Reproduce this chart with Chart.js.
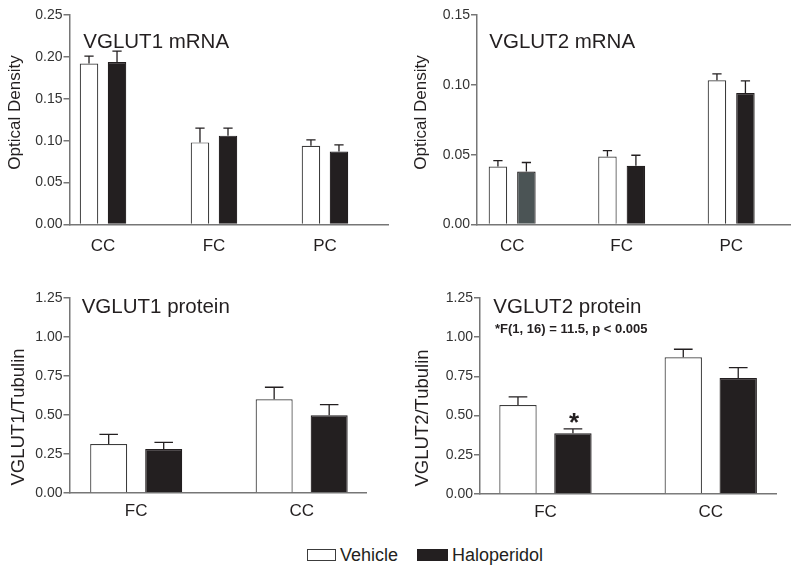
<!DOCTYPE html>
<html>
<head>
<meta charset="utf-8">
<script src="https://cdn.jsdelivr.net/npm/chart.js@4.4.1/dist/chart.umd.min.js"></script>
<style>
  html, body { margin:0; padding:0; background:#ffffff; }
  body { width:800px; height:574px; position:relative; overflow:hidden; font-family:"Liberation Sans", Arial, sans-serif; }
  .panel { position:absolute; width:400px; height:262px; }
  .panel canvas { display:block; }
  .lgbox { position:absolute; box-sizing:border-box; }
  .lgtxt { position:absolute; font-size:18px; line-height:20px; color:#231f20; white-space:nowrap; }
</style>
</head>
<body>
<div class="panel" style="left:0px;top:0px"><canvas id="c1" width="400" height="262"></canvas></div>
<div class="panel" style="left:400px;top:0px"><canvas id="c2" width="400" height="262"></canvas></div>
<div class="panel" style="left:0px;top:262px"><canvas id="c3" width="400" height="262"></canvas></div>
<div class="panel" style="left:400px;top:262px"><canvas id="c4" width="400" height="262"></canvas></div>
<div id="legend"></div>
<script>
// ---------------- DATA ----------------
const seriesNames = ['Vehicle', 'Haloperidol'];

const mrnaRegions = ['CC', 'FC', 'PC'];
const proteinRegions = ['FC', 'CC'];

// VGLUT1 mRNA (Optical Density)
const vglut1MrnaVehicle        = [0.192, 0.098, 0.094];
const vglut1MrnaVehicleSem     = [0.009, 0.017, 0.007];
const vglut1MrnaHaloperidol    = [0.194, 0.106, 0.087];
const vglut1MrnaHaloperidolSem = [0.013, 0.009, 0.008];

// VGLUT2 mRNA (Optical Density)
const vglut2MrnaVehicle        = [0.0415, 0.0487, 0.1032];
const vglut2MrnaVehicleSem     = [0.0043, 0.0042, 0.0046];
const vglut2MrnaHaloperidol    = [0.0380, 0.0420, 0.0942];
const vglut2MrnaHaloperidolSem = [0.0064, 0.0076, 0.0086];

// VGLUT1 protein (VGLUT1/Tubulin)
const vglut1ProteinVehicle        = [0.313, 0.600];
const vglut1ProteinVehicleSem     = [0.062, 0.077];
const vglut1ProteinHaloperidol    = [0.281, 0.498];
const vglut1ProteinHaloperidolSem = [0.043, 0.068];

// VGLUT2 protein (VGLUT2/Tubulin)
const vglut2ProteinVehicle        = [0.568, 0.872];
const vglut2ProteinVehicleSem     = [0.051, 0.051];
const vglut2ProteinHaloperidol    = [0.387, 0.740];
const vglut2ProteinHaloperidolSem = [0.028, 0.066];
const vglut2ProteinHaloperidolSig = ['*', ''];

const mrnaTicks1 = [0, 0.05, 0.10, 0.15, 0.20, 0.25];
const mrnaTicks2 = [0, 0.05, 0.10, 0.15];
const proteinTicks = [0, 0.25, 0.50, 0.75, 1.00, 1.25];

// ---------------- STYLE ----------------
const FONT = '"Liberation Sans", Arial, Helvetica, sans-serif';
const AXIS = '#767676';
const INK = '#231f20';
const VEH_FILL = '#ffffff';
const VEH_EDGE = '#3c3c3c';
const HAL_FILL = '#231f20';

const errorBarPlugin = {
  id: 'errorBars',
  afterDatasetsDraw(chart) {
    const ctx = chart.ctx;
    const ys = chart.scales.y;
    chart.data.datasets.forEach((ds, di) => {
      const meta = chart.getDatasetMeta(di);
      meta.data.forEach((bar, i) => {
        const v = ds.data[i].y;
        const e = ds.errors[i];
        const yBar = ys.getPixelForValue(v);
        const yTop = ys.getPixelForValue(v + e);
        const half = bar.width / 4;
        ctx.save();
        ctx.strokeStyle = INK;
        ctx.lineWidth = 1.3;
        ctx.beginPath();
        ctx.moveTo(bar.x, yBar);
        ctx.lineTo(bar.x, yTop);
        ctx.moveTo(bar.x - half, yTop);
        ctx.lineTo(bar.x + half, yTop);
        ctx.stroke();
        if (ds.sig && ds.sig[i]) {
          ctx.fillStyle = INK;
          ctx.font = 'bold 26px ' + FONT;
          ctx.textAlign = 'center';
          ctx.textBaseline = 'alphabetic';
          ctx.fillText(ds.sig[i], bar.x + 1, yTop + 2);
        }
        ctx.restore();
      });
    });
  }
};

const textPlugin = {
  id: 'panelTexts',
  afterDraw(chart, args, o) {
    const ctx = chart.ctx;
    ctx.save();
    ctx.fillStyle = INK;
    ctx.font = o.titleSize + 'px ' + FONT;
    ctx.textAlign = 'left';
    ctx.textBaseline = 'alphabetic';
    ctx.fillText(o.title, o.titleX, o.titleY);
    if (o.note) {
      ctx.font = 'bold 13px ' + FONT;
      ctx.fillText(o.note, o.noteX, o.noteY);
    }
    ctx.translate(o.yTitleX, o.yTitleY);
    ctx.rotate(-Math.PI / 2);
    ctx.font = o.yTitleSize + 'px ' + FONT;
    ctx.textAlign = 'center';
    ctx.textBaseline = 'middle';
    ctx.fillText(o.yTitle, 0, 0);
    ctx.restore();
  }
};

function makePanel(id, p) {
  const toPts = (arr) => arr.map((v, i) => ({ x: i, y: v }));
  new Chart(document.getElementById(id), {
    type: 'bar',
    data: {
      datasets: [
        {
          label: seriesNames[0],
          data: toPts(p.veh),
          errors: p.vehErr,
          backgroundColor: VEH_FILL,
          borderColor: VEH_EDGE,
          borderWidth: 1.2,
          borderSkipped: 'bottom',
          categoryPercentage: p.cp,
          barPercentage: p.bp
        },
        {
          label: seriesNames[1],
          data: toPts(p.hal),
          errors: p.halErr,
          sig: p.sig,
          backgroundColor: p.halColors,
          borderColor: INK,
          borderWidth: 1.2,
          borderSkipped: 'bottom',
          categoryPercentage: p.cp,
          barPercentage: p.bp
        }
      ]
    },
    options: {
      responsive: false,
      animation: false,
      devicePixelRatio: 1,
      layout: { padding: { left: 0, top: p.top, right: p.right, bottom: 0 } },
      plugins: {
        legend: { display: false },
        tooltip: { enabled: false },
        panelTexts: p.texts
      },
      scales: {
        x: {
          type: 'linear',
          min: p.xmin,
          max: p.xmax,
          offset: false,
          bounds: 'data',
          afterBuildTicks: (s) => { s.ticks = p.cats.map((c, i) => ({ value: i })); },
          grid: { display: false, drawTicks: false },
          border: { display: true, color: AXIS, width: 1.5 },
          ticks: {
            autoSkip: false,
            maxRotation: 0,
            padding: p.xpad,
            color: INK,
            font: { size: 17, family: FONT },
            callback: (v) => (p.cats[Math.round(v)] !== undefined) ? p.cats[Math.round(v)] : ''
          },
          afterFit: (s) => { s.height = p.xh; }
        },
        y: {
          min: p.yTicks[0],
          max: p.yTicks[p.yTicks.length - 1],
          afterBuildTicks: (s) => { s.ticks = p.yTicks.map(v => ({ value: v })); },
          grid: { display: true, drawOnChartArea: false, drawTicks: true, tickLength: 6, color: AXIS, lineWidth: 1.5 },
          border: { display: true, color: AXIS, width: 1.5 },
          ticks: {
            padding: 1,
            color: '#333333',
            font: { size: 14, family: FONT },
            callback: (v) => Number(v).toFixed(2)
          },
          afterFit: (s) => { s.width = p.yw; }
        }
      }
    },
    plugins: [errorBarPlugin, textPlugin]
  });
}

// Panel 1 : VGLUT1 mRNA
makePanel('c1', {
  cats: mrnaRegions, veh: vglut1MrnaVehicle, vehErr: vglut1MrnaVehicleSem,
  hal: vglut1MrnaHaloperidol, halErr: vglut1MrnaHaloperidolSem,
  halColors: [HAL_FILL, HAL_FILL, HAL_FILL],
  yTicks: mrnaTicks1,
  xmin: -0.302, xmax: 2.568, cp: 0.505, bp: 0.66,
  yw: 69.5, top: 15, right: 12, xh: 37.5, xpad: 12,
  texts: { title: 'VGLUT1 mRNA', titleSize: 20.5, titleX: 83.3, titleY: 48.3,
           yTitle: 'Optical Density', yTitleSize: 17, yTitleX: 15.7, yTitleY: 112.5 }
});

// Panel 2 : VGLUT2 mRNA
makePanel('c2', {
  cats: mrnaRegions, veh: vglut2MrnaVehicle, vehErr: vglut2MrnaVehicleSem,
  hal: vglut2MrnaHaloperidol, halErr: vglut2MrnaHaloperidolSem,
  halColors: ['#4b5455', HAL_FILL, HAL_FILL],
  yTicks: mrnaTicks2,
  xmin: -0.321, xmax: 2.537, cp: 0.52, bp: 0.65,
  yw: 77, top: 15, right: 10, xh: 37.5, xpad: 12,
  texts: { title: 'VGLUT2 mRNA', titleSize: 20.5, titleX: 89.3, titleY: 48.3,
           yTitle: 'Optical Density', yTitleSize: 17, yTitleX: 21.7, yTitleY: 112.5 }
});

// Panel 3 : VGLUT1 protein
makePanel('c3', {
  cats: proteinRegions, veh: vglut1ProteinVehicle, vehErr: vglut1ProteinVehicleSem,
  hal: vglut1ProteinHaloperidol, halErr: vglut1ProteinHaloperidolSem,
  halColors: [HAL_FILL, HAL_FILL],
  yTicks: proteinTicks,
  xmin: -0.403, xmax: 1.393, cp: 0.665, bp: 0.673,
  yw: 69.5, top: 35.7, right: 33.3, xh: 31, xpad: 8,
  texts: { title: 'VGLUT1 protein', titleSize: 20.5, titleX: 81.7, titleY: 51.3,
           yTitle: 'VGLUT1/Tubulin', yTitleSize: 18.5, yTitleX: 19, yTitleY: 155 }
});

// Panel 4 : VGLUT2 protein
makePanel('c4', {
  cats: proteinRegions, veh: vglut2ProteinVehicle, vehErr: vglut2ProteinVehicleSem,
  hal: vglut2ProteinHaloperidol, halErr: vglut2ProteinHaloperidolSem, sig: vglut2ProteinHaloperidolSig,
  halColors: [HAL_FILL, HAL_FILL],
  yTicks: proteinTicks,
  xmin: -0.396, xmax: 1.399, cp: 0.665, bp: 0.68,
  yw: 80, top: 36, right: 23.3, xh: 30, xpad: 8,
  texts: { title: 'VGLUT2 protein', titleSize: 20.5, titleX: 93.3, titleY: 50.7,
           note: '*F(1, 16) = 11.5, p < 0.005', noteX: 95, noteY: 70.5,
           yTitle: 'VGLUT2/Tubulin', yTitleSize: 18.5, yTitleX: 23, yTitleY: 156 }
});

// Shared legend
(function () {
  const lg = document.getElementById('legend');
  const items = [
    { name: seriesNames[0], boxLeft: 307, boxW: 29, fill: VEH_FILL, edge: VEH_EDGE, textLeft: 340 },
    { name: seriesNames[1], boxLeft: 417, boxW: 31, fill: HAL_FILL, edge: HAL_FILL, textLeft: 452 }
  ];
  items.forEach(it => {
    const b = document.createElement('div');
    b.className = 'lgbox';
    b.style.cssText = `left:${it.boxLeft}px;top:549px;width:${it.boxW}px;height:12px;background:${it.fill};border:1px solid ${it.edge};`;
    lg.appendChild(b);
    const t = document.createElement('div');
    t.className = 'lgtxt';
    t.style.cssText = `left:${it.textLeft}px;top:545px;`;
    t.textContent = it.name;
    lg.appendChild(t);
  });
})();
</script>
</body>
</html>
